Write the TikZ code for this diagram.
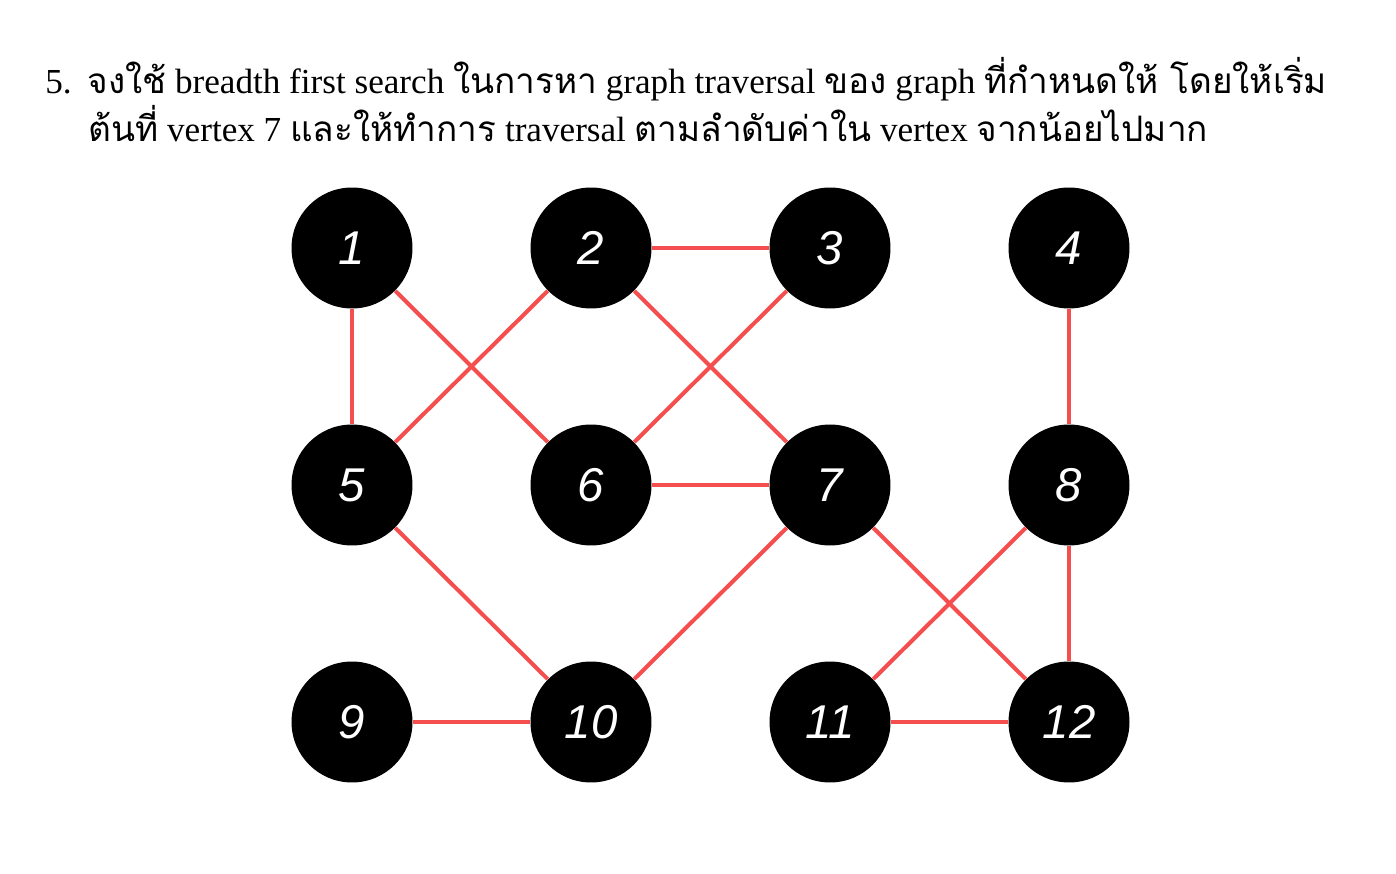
\documentclass[tikz,border=0pt]{standalone}
\usepackage{fontspec}
\setmainfont{Liberation Serif}
\newfontfamily\thaifont[Script=Thai]{Loma}
\newfontfamily\numfont{Liberation Sans}
\usepackage{tikz}
\usetikzlibrary{calc}
\newcommand{\tha}[1]{{\thaifont #1}}
\definecolor{edgered}{RGB}{245,78,78}
\tikzset{
  vertex/.style = {circle, fill = black, inner sep = 0, minimum size = 2.42cm,
    text = white, font = \numfont\itshape\fontsize{27}{27}\selectfont},
  edge/.style = {draw = edgered, line width = 2.3pt},
  question/.style = {anchor = base west, inner sep = 0, font = \fontsize{20}{24}\selectfont}
}
\begin{document}
\begin{tikzpicture}[x = .02cm, y = -.02cm]
\useasboundingbox (0, 0) rectangle (1396, 874);
\node at (45, 94) [name=line1, question] {5.\hspace{.45em}\tha{จงใช้} breadth first search \tha{ในการหา} graph traversal \tha{ของ} graph \tha{ที่กำหนดให้ โดยให้เริ่ม}};
\node at (88, 142) [name=line2, question] {\tha{ต้นที่} vertex 7 \tha{และให้ทำการ} traversal \tha{ตามลำดับค่าใน} vertex \tha{จากน้อยไปมาก}};
%\draw [red] (45, 0) -- (45, 874) (1335, 0) -- (1335, 874);
\foreach \n in {1,...,12} {
  \pgfmathtruncatemacro{\col}{mod(\n - 1, 4)}
  \pgfmathtruncatemacro{\row}{(\n - 1) / 4}
  \node at (352 + 239 * \col, 248 + 237 * \row) [name=v\n, vertex] {\n};
}
\foreach \a/\b in {1/5, 1/6, 2/3, 2/5, 2/7, 3/6, 4/8, 6/7, 5/10, 7/10, 7/12, 8/11, 8/12, 9/10, 11/12}
  \draw [edge] (v\a) -- (v\b);
\end{tikzpicture}
\end{document}
